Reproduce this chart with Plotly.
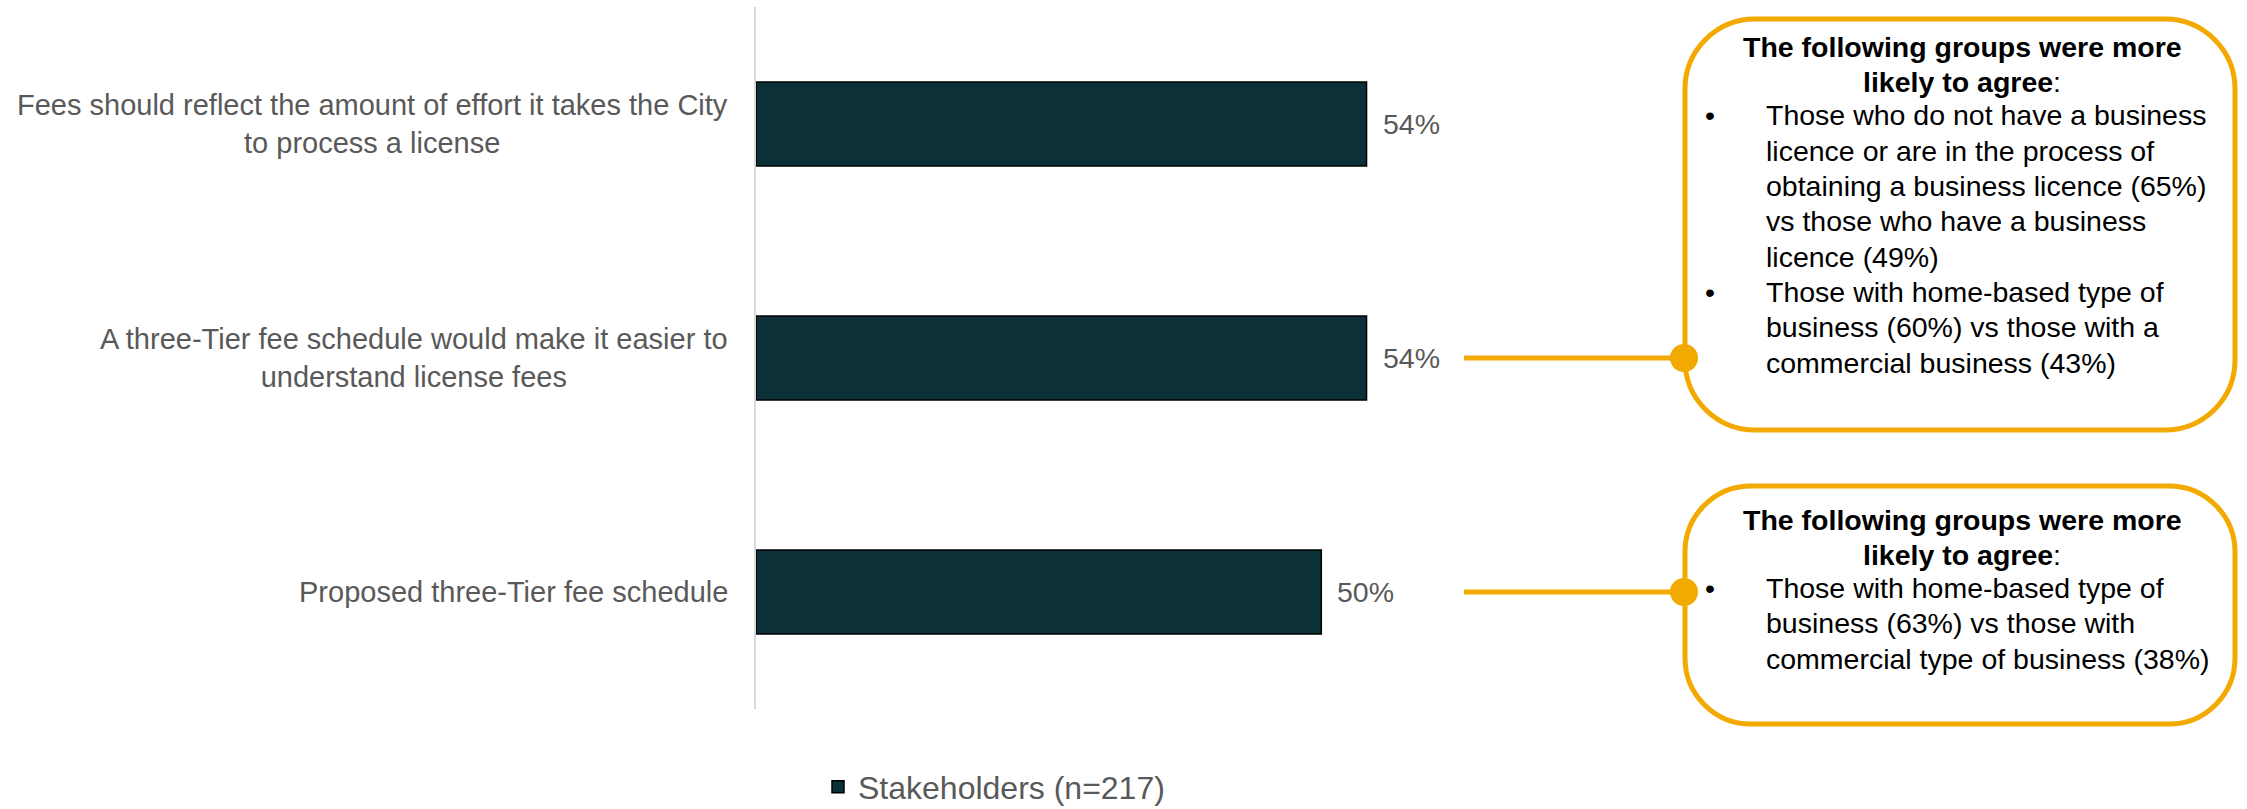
import plotly.graph_objects as go

# ---------------- data ----------------
categories = [
    "Fees should reflect the amount of effort it takes the City<br>to process a license",
    "A three-Tier fee schedule would make it easier to<br>understand license fees",
    "Proposed three-Tier fee schedule",
]
values = [0.54, 0.54, 0.50]
value_labels = ["54%", "54%", "50%"]
series_name = "Stakeholders (n=217)"

callout_title = ["<b>The following groups were more</b>", "<b>likely to agree</b>:"]
callout_bar_index = [1, 2]
callout_bullets = [
    [
        ["Those who do not have a business", "licence or are in the process of",
         "obtaining a business licence (65%)", "vs those who have a business", "licence (49%)"],
        ["Those with home-based type of", "business (60%) vs those with a",
         "commercial business (43%)"],
    ],
    [
        ["Those with home-based type of", "business (63%) vs those with",
         "commercial type of business (38%)"],
    ],
]

# ---------------- style / geometry ----------------
W, H = 2247, 809
L, RPX, T, B = 756, 1457, 7, 709
FONT = "Liberation Sans, Arial, sans-serif"
BAR = "#0B3038"
GOLD = "#F2A900"
GREY = "#595959"


def px_x(px):
    return (px - L) / (RPX - L)


def px_y(py):
    return (B - py) / (B - T)


def pt(x, y):
    return f"{px_x(x):.5f},{px_y(y):.5f}"


def rrect(x0, y0, x1, y1, r):
    k = 0.5523 * r
    return (
        f"M{pt(x0 + r, y0)} L{pt(x1 - r, y0)} "
        f"C{pt(x1 - r + k, y0)} {pt(x1, y0 + r - k)} {pt(x1, y0 + r)} "
        f"L{pt(x1, y1 - r)} "
        f"C{pt(x1, y1 - r + k)} {pt(x1 - r + k, y1)} {pt(x1 - r, y1)} "
        f"L{pt(x0 + r, y1)} "
        f"C{pt(x0 + r - k, y1)} {pt(x0, y1 - r + k)} {pt(x0, y1 - r)} "
        f"L{pt(x0, y0 + r)} "
        f"C{pt(x0, y0 + r - k)} {pt(x0 + r - k, y0)} {pt(x0 + r, y0)} Z"
    )


fig = go.Figure()
fig.add_trace(go.Bar(
    y=list(range(len(categories))),
    x=values,
    orientation="h",
    width=0.36,
    marker=dict(color=BAR, line=dict(color="#000000", width=1.5)),
    name=series_name,
    showlegend=True,
    hoverinfo="skip",
))

annotations = []
shapes = []

# category labels (centered multi-line, right anchored near axis)
for i, c in enumerate(categories):
    annotations.append(dict(
        xref="paper", yref="y", x=0, y=i, xanchor="right", yanchor="middle",
        xshift=-26, text=c, showarrow=False, align="center",
        font=dict(family=FONT, size=29, color=GREY),
    ))

# value labels
for i, (v, t) in enumerate(zip(values, value_labels)):
    annotations.append(dict(
        xref="x", yref="y", x=v, y=i, xanchor="left", yanchor="middle",
        xshift=14, text=t, showarrow=False,
        font=dict(family=FONT, size=28.5, color=GREY),
    ))

# callout boxes
boxes = [
    dict(x0=1685, y0=19, x1=2235, y1=430, r=70, title_top=47, body_top=115.5),
    dict(x0=1685, y0=486, x1=2235, y1=724, r=66, title_top=520, body_top=588),
]
BOX_FONT = 28.5
LH = 35.3

for b, bi, bullets in zip(boxes, callout_bar_index, callout_bullets):
    shapes.append(dict(type="path", xref="paper", yref="paper",
                       path=rrect(b["x0"], b["y0"], b["x1"], b["y1"], b["r"]),
                       line=dict(color=GOLD, width=5), fillcolor="rgba(0,0,0,0)",
                       layer="above"))
    # connector line at bar position
    shapes.append(dict(type="line", xref="paper", yref="y",
                       x0=px_x(1464), x1=px_x(1683), y0=bi, y1=bi,
                       line=dict(color=GOLD, width=5), layer="above"))
    shapes.append(dict(type="circle", xref="paper", yref="y",
                       xsizemode="pixel", ysizemode="pixel",
                       xanchor=px_x(1684), yanchor=bi,
                       x0=-14, x1=14, y0=-14, y1=14,
                       fillcolor=GOLD, line=dict(color=GOLD, width=0), layer="above"))
    # title lines
    for k, tl in enumerate(callout_title):
        annotations.append(dict(
            xref="paper", yref="paper", x=px_x((b["x0"] + b["x1"]) / 2 + 2),
            y=px_y(b["title_top"] + k * LH),
            xanchor="center", yanchor="middle", text=tl, showarrow=False,
            font=dict(family=FONT, size=BOX_FONT, color="#000000"),
        ))
    # bullets + body lines
    row = 0
    for grp in bullets:
        annotations.append(dict(
            xref="paper", yref="paper", x=px_x(1710), y=px_y(b["body_top"] + row * LH),
            xanchor="center", yanchor="middle", text="•", showarrow=False,
            font=dict(family=FONT, size=BOX_FONT, color="#000000"),
        ))
        for line in grp:
            annotations.append(dict(
                xref="paper", yref="paper", x=px_x(1764), y=px_y(b["body_top"] + row * LH),
                xanchor="left", yanchor="middle", text=line, showarrow=False,
                font=dict(family=FONT, size=BOX_FONT, color="#000000"),
            ))
            row += 1

fig.update_layout(
    width=W, height=H, autosize=False,
    margin=dict(l=L, r=W - RPX, t=T, b=H - B, pad=0, autoexpand=False),
    paper_bgcolor="white", plot_bgcolor="white",
    font=dict(family=FONT, size=28, color=GREY),
    xaxis=dict(range=[0, 0.62], showgrid=False, zeroline=False, showticklabels=False,
               ticks="", showline=False, fixedrange=True),
    yaxis=dict(range=[len(categories) - 0.5, -0.5], showgrid=False, zeroline=False,
               showticklabels=False, ticks="", showline=True, linecolor="#D9D9D9",
               linewidth=1.5, fixedrange=True),
    legend=dict(orientation="h", x=px_x(818), xanchor="left", y=px_y(787), yanchor="middle",
                font=dict(family=FONT, size=32, color=GREY), bgcolor="rgba(0,0,0,0)",
                itemclick=False, itemdoubleclick=False),
    annotations=annotations,
    shapes=shapes,
    showlegend=True,
)

fig.write_html("out.html")
